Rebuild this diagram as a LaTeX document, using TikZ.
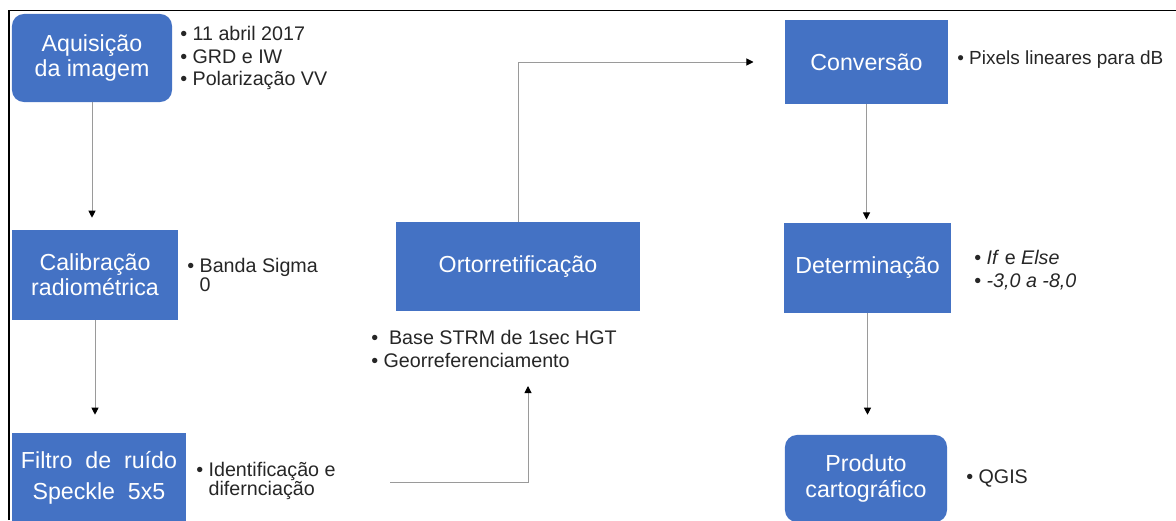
\documentclass[tikz,border=0pt]{standalone}
\usepackage{fontspec}
\setmainfont{Liberation Sans}
\usepackage{xcolor}
\usepackage{tikz}
\usetikzlibrary{positioning, arrows.meta}
\definecolor{boxblue}{HTML}{4472C4}
\definecolor{linegray}{HTML}{9A9A9A}
\definecolor{textgray}{HTML}{262626}

\begin{document}
\begin{tikzpicture}[x=0.025cm, y=-0.025cm,
    procbox/.style={fill=boxblue, draw=none, text=white, align=center, inner sep=0pt,
                    font=\fontsize{16.5}{18}\selectfont},
    roundbox/.style={procbox, rounded corners=0.3cm},
    bullets/.style={anchor=west, align=left, inner sep=0pt, text=textgray,
                    font=\fontsize{14}{16.3}\selectfont},
    conn/.style={draw=linegray, line width=0.7pt, -{Triangle[length=5pt, width=5pt, color=black]}}]
            \useasboundingbox (0,0) rectangle (1176,520);        % page size
            \draw [black, line width=1.3pt] (8.7,520) -- (8.7,10.5) -- (1176,10.5);  % frame
            % left column
            \node [roundbox, minimum width=4cm, minimum height=2.2cm] (aquis) at (92,58) {Aquisição\\da imagem};
            \node [procbox, minimum width=4.15cm, minimum height=2.25cm] (calib) at (95,275) {Calibração\\radiométrica};
            \node [procbox, minimum width=4.35cm, minimum height=2.25cm,
                   font=\fontsize{16.5}{22}\selectfont] (filtro) at (99,478) {Filtro \ de \ ruído\\Speckle \ 5x5};
            \node [bullets] (aquisb) at (180,58) {• 11 abril 2017\\• GRD e IW\\• Polarização VV};
            \node [bullets, font=\fontsize{14}{13.5}\selectfont] (calibb) at (187,274.5) {• Banda Sigma\\\hphantom{• }0};
            \node [bullets, font=\fontsize{14}{13.5}\selectfont] (filtrob) at (196,480.5) {• Identificação e\\\hphantom{• }difernciação};
            % middle column
            \node [procbox, minimum width=6.1cm, minimum height=2.225cm] (orto) at (518,266.5) {Ortorretificação};
            \node [bullets] (ortob) at (371,348.5) {• \ Base STRM de 1sec HGT\\• Georreferenciamento};
            % right column
            \node [procbox, minimum width=4.075cm, minimum height=2.1cm] (conv) at (866.5,62) {Conversão};
            \node [procbox, minimum width=4.175cm, minimum height=2.25cm] (determ) at (867.5,268) {Determinação};
            \node [roundbox, minimum width=4.05cm, minimum height=2.175cm] (produto) at (866,478.5) {Produto\\cartográfico};
            \node [bullets, font=\fontsize{13.5}{16}\selectfont] (convb) at (957,60) {• Pixels lineares para dB};
            \node [bullets] (determb) at (974,270) {• \textit{If} e \textit{Else}\\• \textit{-3,0 a -8,0}};
            \node [bullets] (produtob) at (966,478) {• QGIS};
            % connectors
            \coordinate (fstart) at (390,482);                 % loose start
            \coordinate (ftip) at (528,386);                   % loose tip
            \draw [conn, shorten >=0.3cm] (aquis.south) -- (aquis.south |- calib.north);
            \draw [conn, shorten >=0.45cm] (calib.south) -- (calib.south |- filtro.north);
            \draw [conn] (fstart) -| (ftip);
            \draw [conn, shorten >=0.78cm] (orto.north) |- (conv.west);
            \draw [conn, shorten >=0.08cm] (conv.south) -- (conv.south |- determ.north);
            \draw [conn, shorten >=0.5cm] (determ.south) -- (determ.south |- produto.north);
\end{tikzpicture}
\end{document}
